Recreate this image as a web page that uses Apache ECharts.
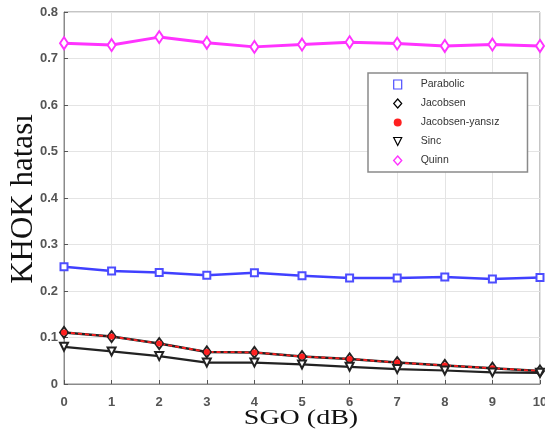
<!DOCTYPE html>
<html><head><meta charset="utf-8">
<script src="https://cdn.jsdelivr.net/npm/echarts@6/dist/echarts.min.js"></script>
<style>html,body{margin:0;padding:0;background:#fff}#c{width:545px;height:439px}</style>
</head><body><div id="c"></div>
<script>
const snr = ['0','1','2','3','4','5','6','7','8','9','10'];
const parabolic = [0.252,0.243,0.240,0.234,0.239,0.233,0.228,0.228,0.230,0.226,0.229];
const jacobsen = [0.111,0.102,0.087,0.069,0.068,0.059,0.054,0.046,0.040,0.034,0.028];
const jacobsenYansiz = [0.111,0.102,0.087,0.069,0.068,0.059,0.054,0.046,0.040,0.034,0.028];
const sinc = [0.080,0.070,0.060,0.046,0.046,0.042,0.037,0.032,0.029,0.025,0.024];
const quinn = [0.733,0.729,0.746,0.734,0.725,0.730,0.735,0.732,0.727,0.730,0.727];
const names = ['Parabolic','Jacobsen','Jacobsen-yansız','Sinc','Quinn'];
const xTitle = 'SGO (dB)';
const yTitle = 'KHOK hatası';

const chart = echarts.init(document.getElementById('c'), null, {renderer:'canvas'});
const tickFont = {color:'#555', fontSize:13, fontWeight:'bold', fontFamily:'Liberation Sans, Arial, sans-serif'};
chart.setOption({
  animation:false,
  backgroundColor:'#fff',
  grid:{left:64, right:5, top:12, bottom:55, show:true, borderColor:'#8a8a8a', borderWidth:1, containLabel:false, outerBoundsMode:'none'},
  graphic:[{
    type:'text', x:301, y:419, scaleX:1.4, scaleY:1,
    style:{text:xTitle, font:'20px "Liberation Serif", "Times New Roman", serif', fill:'#111', textAlign:'center', textVerticalAlign:'middle'}
  },{
    type:'text', x:24, y:199, rotation:Math.PI/2,
    style:{text:yTitle, font:'31px "Liberation Serif", "Times New Roman", serif', fill:'#111', textAlign:'center', textVerticalAlign:'middle'}
  }],
  legend:{
    orient:'vertical', left:368, top:73, itemGap:8, itemWidth:8, itemHeight:9,
    padding:[6,28,6,25], backgroundColor:'#fff', borderColor:'#8a8a8a', borderWidth:1.5,
    textStyle:{fontSize:10.5, color:'#333', fontFamily:'Liberation Sans, Arial, sans-serif', padding:[0,0,0,14]},
    data:[
      {name:names[0], icon:'rect', itemStyle:{color:'transparent', borderColor:'#4d4dff', borderWidth:1.2}},
      {name:names[1], icon:'diamond', itemStyle:{color:'transparent', borderColor:'#000', borderWidth:1.2}},
      {name:names[2], icon:'circle', itemStyle:{color:'#ff2020', borderWidth:0}},
      {name:names[3], icon:'path://M0,0 L10,0 L5,10 Z', itemStyle:{color:'transparent', borderColor:'#000', borderWidth:1.2}},
      {name:names[4], icon:'diamond', itemStyle:{color:'transparent', borderColor:'#ff33ff', borderWidth:1.4}}
    ]
  },
  xAxis:{
    type:'category', data:snr, boundaryGap:false,
    axisLine:{lineStyle:{color:'#8a8a8a'}},
    axisTick:{inside:true, length:4, alignWithLabel:true, lineStyle:{color:'#555'}},
    axisLabel:Object.assign({margin:12}, tickFont),
    splitLine:{show:true, lineStyle:{color:'#e4e4e4'}}
  },
  yAxis:{
    type:'value', min:0, max:0.8, interval:0.1,
    axisLine:{show:true, lineStyle:{color:'#8a8a8a'}},
    axisTick:{show:true, inside:true, length:4, lineStyle:{color:'#555'}},
    axisLabel:Object.assign({margin:6, formatter:v=> v===0?'0':v.toFixed(1)}, tickFont),
    splitLine:{show:true, lineStyle:{color:'#e4e4e4'}}
  },
  series:[
    {name:names[0], type:'line', data:parabolic, symbol:'emptyRect', symbolSize:7,
     lineStyle:{color:'#4040ff', width:2.5}, itemStyle:{color:'#4d4dff', borderWidth:1}},
    {name:names[1], type:'line', data:jacobsen, symbol:'emptyDiamond', symbolSize:[8,11],
     lineStyle:{color:'#222', width:2.5}, itemStyle:{color:'#222', borderWidth:1}},
    {name:names[2], type:'line', data:jacobsenYansiz, symbol:'circle', symbolSize:6,
     lineStyle:{color:'#ff2020', width:1.8, type:[4,3]}, itemStyle:{color:'#ff2020'}},
    {name:names[3], type:'line', data:sinc, symbol:'emptyTriangle', symbolRotate:180, symbolSize:8,
     lineStyle:{color:'#222', width:2.2}, itemStyle:{color:'#222', borderWidth:1}},
    {name:names[4], type:'line', data:quinn, symbol:'emptyDiamond', symbolSize:[8,12],
     lineStyle:{color:'#ff33ff', width:3}, itemStyle:{color:'#ff33ff', borderWidth:1}}
  ]
});
</script></body></html>
